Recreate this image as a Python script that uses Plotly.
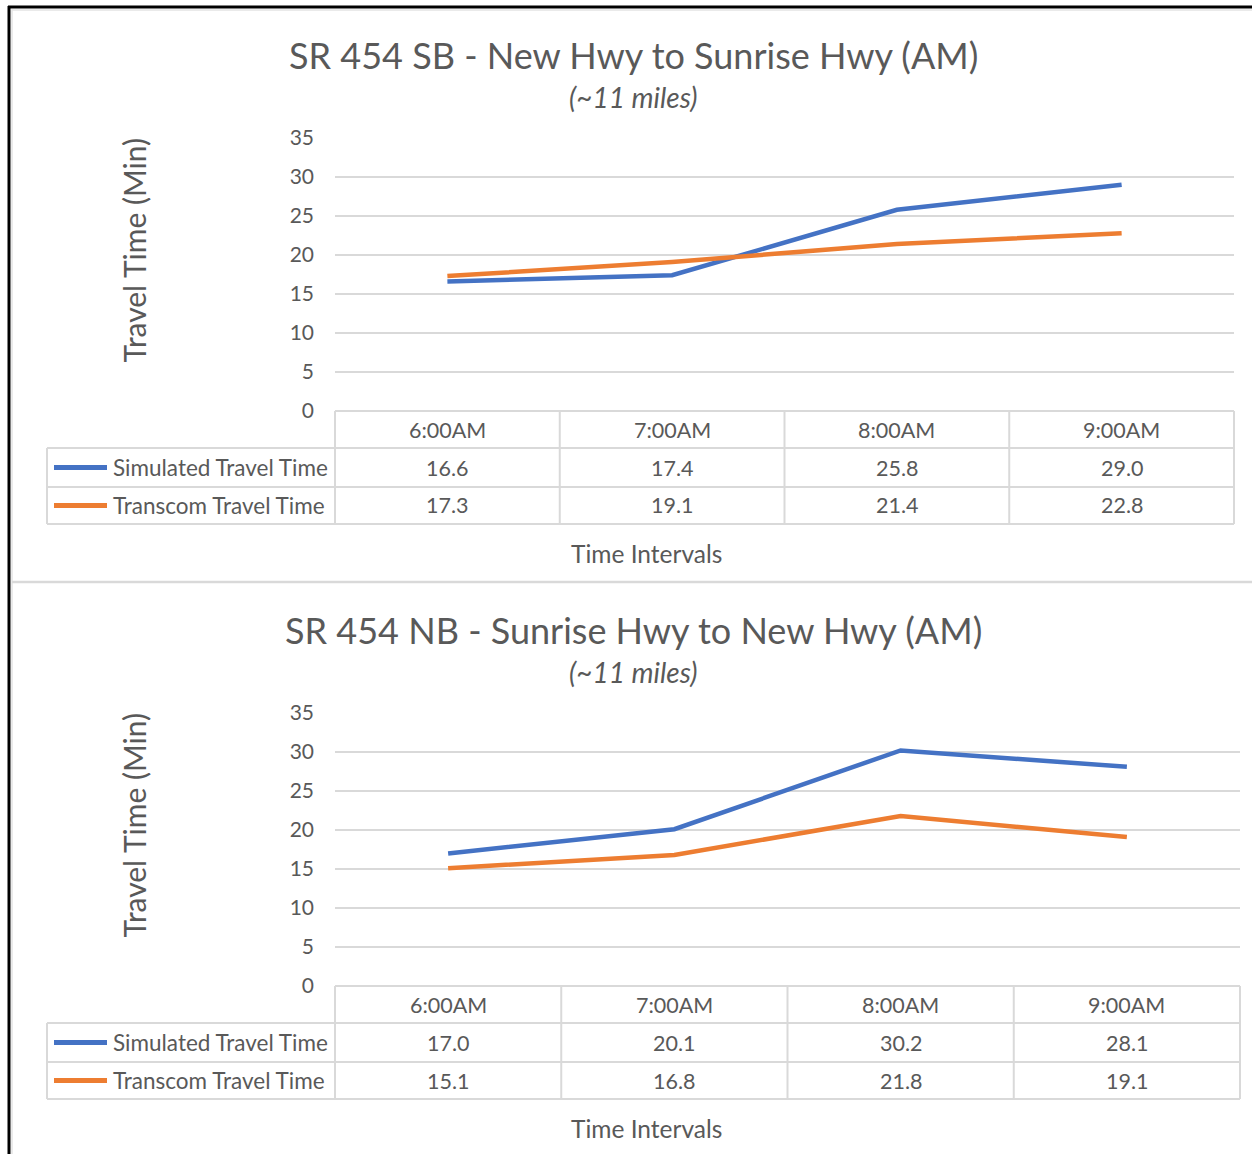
import plotly.graph_objects as go

# ---- data ----
intervals = ["6:00AM", "7:00AM", "8:00AM", "9:00AM"]
series_names = ["Simulated Travel Time", "Transcom Travel Time"]

sb_title = "SR 454 SB - New Hwy to Sunrise Hwy (AM)"
sb_simulated = [16.6, 17.4, 25.8, 29.0]
sb_transcom = [17.3, 19.1, 21.4, 22.8]

nb_title = "SR 454 NB - Sunrise Hwy to New Hwy (AM)"
nb_simulated = [17.0, 20.1, 30.2, 28.1]
nb_transcom = [15.1, 16.8, 21.8, 19.1]

subtitle = "(~11 miles)"
y_title = "Travel Time (Min)"
x_title = "Time Intervals"
y_ticks = [0, 5, 10, 15, 20, 25, 30, 35]

# ---- style ----
W, H = 1252, 1154
FONT = "Lato, 'Open Sans', sans-serif"
TXT = "#595959"
GRID = "#D9D9D9"
COLORS = ["#4472C4", "#ED7D31"]


def px(x):
    return x / W


def py(y):
    return 1 - y / H


fig = go.Figure()
shapes = []
annotations = []


def label(text, x, y, size, xref="paper", xanchor="center", **kw):
    annotations.append(dict(text=text, x=x, y=y, xref=xref, yref="paper",
                            xanchor=xanchor, yanchor="middle", showarrow=False,
                            font=dict(family=FONT, size=size, color=TXT), **kw))


def hline(x0, x1, y, color=GRID, width=2):
    shapes.append(dict(type="line", xref="paper", yref="paper", x0=px(x0), x1=px(x1),
                       y0=py(y), y1=py(y), line=dict(color=color, width=width)))


def vline(x, y0, y1, color=GRID, width=2):
    shapes.append(dict(type="line", xref="paper", yref="paper", x0=px(x), x1=px(x),
                       y0=py(y0), y1=py(y1), line=dict(color=color, width=width)))


def panel(idx, title, sim, trans, top, left, right):
    """One chart block with an attached data table; `top` is the title centre line."""
    xa = "x" if idx == 1 else f"x{idx}"
    ya = "y" if idx == 1 else f"y{idx}"
    y35 = top + 83
    y0 = y35 + 273
    row_h = [y0, y0 + 37, y0 + 76, y0 + 113]

    for name, vals, col in zip(series_names, [sim, trans], COLORS):
        fig.add_trace(go.Scatter(
            x=intervals, y=vals, mode="lines", name=name,
            line=dict(color=col, width=4.5), xaxis=xa, yaxis=ya,
            showlegend=False, hoverinfo="x+y"))

    ax_key = "xaxis" if idx == 1 else f"xaxis{idx}"
    ay_key = "yaxis" if idx == 1 else f"yaxis{idx}"
    fig.layout[ax_key] = dict(
        domain=[px(left), px(right)], range=[-0.5, 3.5], type="category",
        showticklabels=False, showgrid=False, zeroline=False,
        anchor=ya, fixedrange=True)
    fig.layout[ay_key] = dict(
        domain=[py(y0), py(y35)], range=[0, 35], tickvals=y_ticks,
        showgrid=True, gridcolor=GRID, gridwidth=2, zeroline=False,
        tickfont=dict(family=FONT, size=21, color=TXT),
        ticklabelstandoff=20, anchor=xa, fixedrange=True, automargin=False)

    # titles
    label(title, px(633), py(top), 36)
    label(f"<i>{subtitle}</i>", px(633), py(top + 42), 28)
    label(y_title, px(133), py((y35 + y0) / 2 - 24), 30, textangle=-90)
    label(x_title, px(646), py(row_h[3] + 29), 24.5)

    # data table grid
    col_w = (right - left) / 4
    for k in range(5):
        vline(left + k * col_w, row_h[0], row_h[3])
    hline(left, right, row_h[0])
    for r in row_h[1:]:
        hline(47, right, r)
    vline(47, row_h[1], row_h[3])

    # header row and values
    for c, lab in enumerate(intervals):
        label(lab, c, py((row_h[0] + row_h[1]) / 2), 21.5, xref=xa)
    for r, (name, vals, col) in enumerate(zip(series_names, [sim, trans], COLORS)):
        yc = (row_h[r + 1] + row_h[r + 2]) / 2
        hline(54, 107, yc, color=col, width=5)
        label(name, px(111), py(yc), 22.5, xanchor="left")
        for c, v in enumerate(vals):
            label(f"{v:.1f}", c, py(yc), 21.5, xref=xa)


panel(1, sb_title, sb_simulated, sb_transcom, top=55, left=335, right=1234)
panel(2, nb_title, nb_simulated, nb_transcom, top=630, left=335, right=1240)

# outer frame and divider
vline(9, 1154, 6, color="black", width=3)
hline(8, W, 7, color="black", width=3)
vline(12, 1154, 9, color="#E3E3E3", width=1.5)
hline(12, W, 10, color="#E3E3E3", width=1.5)
hline(12, W, 582, color="#D9D9D9", width=2.5)

fig.update_layout(
    width=W, height=H, margin=dict(l=0, r=0, t=0, b=0, autoexpand=False),
    paper_bgcolor="white", plot_bgcolor="white",
    shapes=shapes, annotations=annotations, showlegend=False)

fig.write_html("out.html", config={"displayModeBar": False})
